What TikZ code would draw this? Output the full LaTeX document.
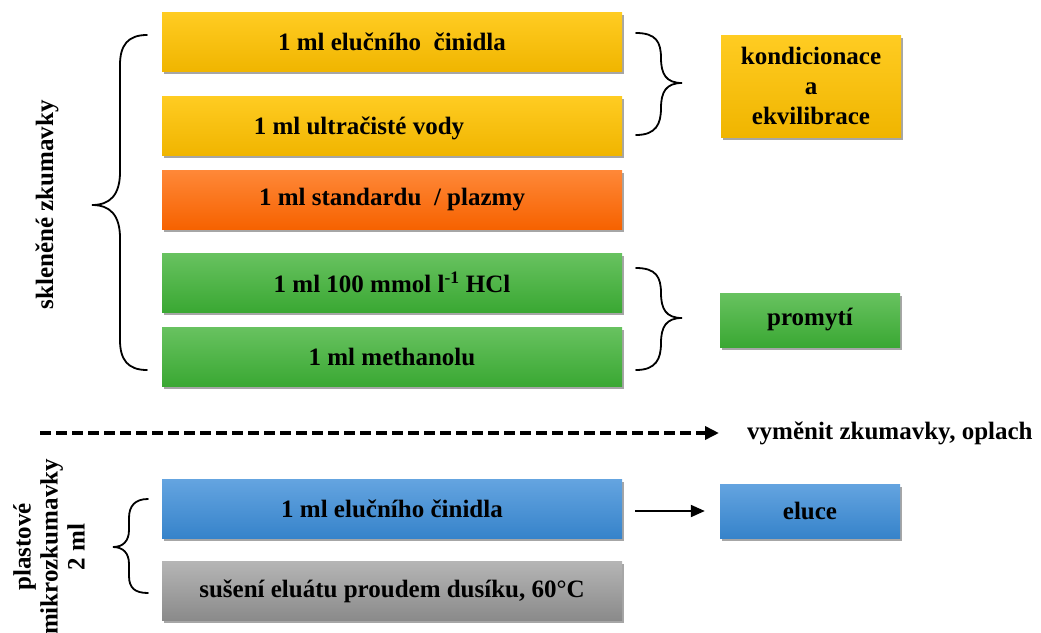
\documentclass[tikz,border=0pt]{standalone}
\usepackage{fontspec}
\setmainfont{Liberation Serif}
\usetikzlibrary{shadows,arrows.meta}
\definecolor{yelT}{HTML}{FFCC22}
\definecolor{yelB}{HTML}{F0B500}
\definecolor{oraT}{HTML}{FF8838}
\definecolor{oraB}{HTML}{F66200}
\definecolor{grnT}{HTML}{68C260}
\definecolor{grnB}{HTML}{3AA833}
\definecolor{bluT}{HTML}{64A4E0}
\definecolor{bluB}{HTML}{3683CA}
\definecolor{gryT}{HTML}{B5B5B5}
\definecolor{gryB}{HTML}{8A8A8A}
\tikzset{
  txt/.style={font=\bfseries\fontsize{25}{30}\selectfont, inner sep=0pt},
  box/.style={txt, rectangle, inner sep=0pt,
    drop shadow={shadow xshift=1.5pt, shadow yshift=-2.5pt, opacity=0.35, fill=black}},
  wide/.style={box, minimum width=460pt, minimum height=59pt},
  small/.style={box, minimum width=180pt, minimum height=54pt},
  yel/.style={top color=yelT, bottom color=yelB},
  ora/.style={top color=oraT, bottom color=oraB},
  grn/.style={top color=grnT, bottom color=grnB},
  blu/.style={top color=bluT, bottom color=bluB},
  gry/.style={top color=gryT, bottom color=gryB},
  bracel/.style={line width=1.8pt, line cap=round},
  conn/.style={line width=2pt, -{Triangle[length=14pt,width=12pt]}},
  dashconn/.style={line width=3.5pt, dash pattern=on 11pt off 5pt, -{Triangle[length=14pt,width=13pt]}},
}
\begin{document}
\begin{tikzpicture}[x=1pt,y=-1pt]
\useasboundingbox (0,0) rectangle (1041,632);
% main column
\node[wide,yel] (b1) at (392,42) {1 ml elučního\ \ činidla};
\node[wide,yel] (b2) at (392,125.5) {};
\node[txt] (b2t) at (359,128) {1 ml ultračisté vody};
\node[wide,ora] (b3) at (392,199.5) {1 ml standardu\ \ / plazmy};
\node[wide,grn] (b4) at (392,282.5) {1 ml 100 mmol l\textsuperscript{-1} HCl};
\node[wide,grn] (b5) at (392,356.5) {1 ml methanolu};
\node[wide,blu] (b6) at (392,509) {1 ml elučního činidla};
\node[wide,gry] (b7) at (392,591) {sušení eluátu proudem dusíku, 60°C};
% right column
\node[box,yel,minimum width=180pt,minimum height=102pt,align=center] (k) at (811,86)
  {kondicionace\\a\\ekvilibrace};
\node[small,grn] (p) at (810,320) {promytí};
\node[small,blu] (e) at (810,511) {eluce};
% right braces
\draw[bracel] (636,33) .. controls (656,33) and (661,42) .. (661,58)
  .. controls (661,74) and (666,83) .. (682,83)
  .. controls (666,83) and (661,92) .. (661,108)
  .. controls (661,124) and (656,135) .. (636,135);
\draw[bracel] (636,268) .. controls (656,268) and (661,277) .. (661,293)
  .. controls (661,309) and (666,318) .. (682,318)
  .. controls (666,318) and (661,327) .. (661,343)
  .. controls (661,359) and (656,370) .. (636,370);
% left big brace
\draw[bracel] (147,35) .. controls (128,35) and (120,45) .. (120,65)
  -- (120,172)
  .. controls (120,195) and (110,205) .. (92,205)
  .. controls (110,205) and (120,215) .. (120,238)
  -- (120,340)
  .. controls (120,360) and (128,370) .. (147,370);
% small brace
\draw[bracel] (148,499) .. controls (135,499) and (129,506) .. (129,518)
  -- (129,530)
  .. controls (129,541) and (123,547) .. (113,547)
  .. controls (123,547) and (129,553) .. (129,564)
  -- (129,576)
  .. controls (129,588) and (135,593) .. (148,593);
% side labels
\node[txt, rotate=90] (sk) at (47,205) {skleněné zkumavky};
\node[txt, rotate=90, align=center, font=\bfseries\fontsize{25}{27}\selectfont] (pl) at (49,547)
  {plastové\\mikrozkumavky\\2 ml};
% dashed separator
\coordinate (ds) at (40,433);
\coordinate (de) at (719,433);
\draw[dashconn] (ds) -- (de);
\node[txt, anchor=west] (vy) at (747,433) {vyměnit zkumavky, oplach};
% arrow to eluce
\draw[conn] ([xshift=13pt]b6.east |- e.west) -- ([xshift=-15pt]e.west);
\end{tikzpicture}
\end{document}
